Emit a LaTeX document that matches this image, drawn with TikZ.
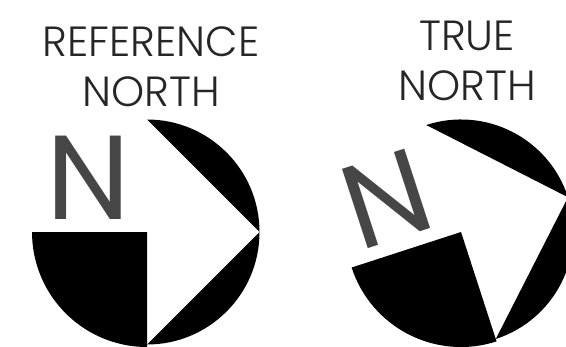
\documentclass[tikz,border=0pt]{standalone}
\usepackage{fontspec}
\setmainfont{Poppins Light}
\newfontfamily\fonteN{Poppins}
\usetikzlibrary{positioning}
\definecolor{cinzaN}{RGB}{70, 70, 70}
\tikzset{
  titulo/.style={align=center, font=\fontsize{12}{14.2}\selectfont, inner sep=0pt, text=black!85},
  letraN/.style={font=\fonteN\fontsize{34}{34}\selectfont, text=cinzaN, inner sep=0pt},
  bussola/.pic={
    \fill (0,1.125) arc (90:0:1.125) -- cycle;
    \fill (1.125,0) arc (0:-90:1.125) -- cycle;
    \fill (-1.15,0) arc (180:270:1.15) -- (0,0) -- cycle;
  }
}
\begin{document}
\begin{tikzpicture}
\useasboundingbox (0,0) rectangle (5.66,3.46);
\clip (0,0) rectangle (5.66,3.46);

% Reference north
\node[titulo] (refnorth) at (1.51,2.79) {REFERENCE\\NORTH};
\pic at (1.47,1.14) {bussola};
\node[letraN] (refn) at (0.89,1.68) {N};

% True north
\node[titulo] (truenorth) at (4.67,2.85) {TRUE\\NORTH};
\pic[rotate=18] at (4.61,1.14) {bussola};
\node[letraN, rotate=18] (truen) at (3.87,1.47) {N};

\end{tikzpicture}
\end{document}
